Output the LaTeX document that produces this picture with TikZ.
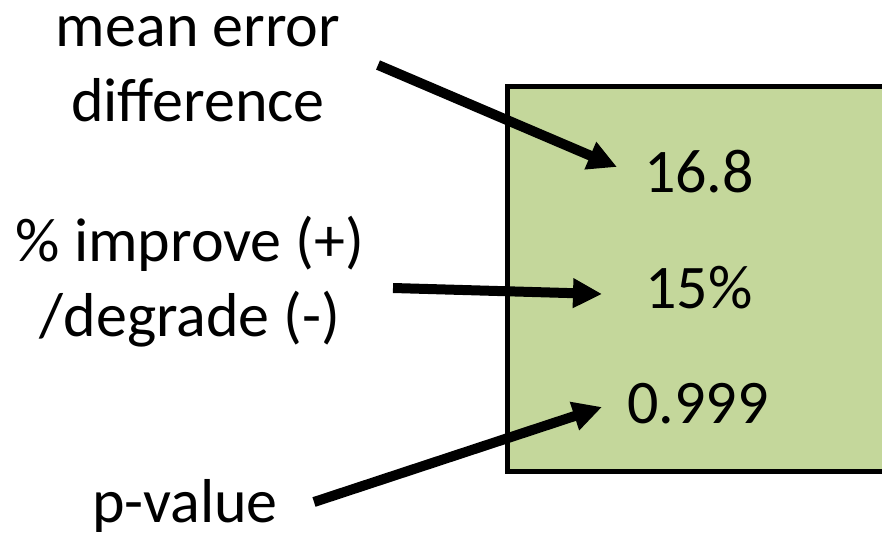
\documentclass[tikz,border=0pt]{standalone}
\usepackage{fontspec}
\setmainfont{Carlito}
\usetikzlibrary{arrows.meta}
\definecolor{boxgreen}{RGB}{196,215,155}

\begin{document}
\begin{tikzpicture}[x=1pt,y=-1pt,-{Triangle[length=29pt,width=28pt]},line width=10pt]
      \tikzstyle{every node}=[inner sep=0pt,font=\fontsize{62}{75}\selectfont]
      \tikzstyle{label}=[anchor=base,align=center]
      \tikzstyle{value}=[anchor=base]

      \clip (0,0) rectangle (882,534);
      \draw[-,line width=5pt,fill=boxgreen] (507,87) rectangle (960,471);

      \node[label] (meanerr) at (198,122) {mean error\\difference};
      \node[label] (improve) at (190,336) {\% improve (+)\\/degrade (-)};
      \node[label] (pval) at (185,522) {p-value};

      \node[value] (diffval) at (699,193) {16.8};
      \node[value] (pctval) at (699,308) {15\%};
      \node[value] (pvalue) at (698,423) {0.999};

      \coordinate (t1) at (378,65);
      \coordinate (t2) at (393,288);
      \coordinate (t3) at (314,502);
      \coordinate (h1) at (617,167);
      \coordinate (h2) at (602,294);
      \coordinate (h3) at (602,407);
      \path (t1) edge (h1);
             \path (t2) edge (h2);
             \path (t3) edge (h3);
             \end{tikzpicture}
\end{document}
